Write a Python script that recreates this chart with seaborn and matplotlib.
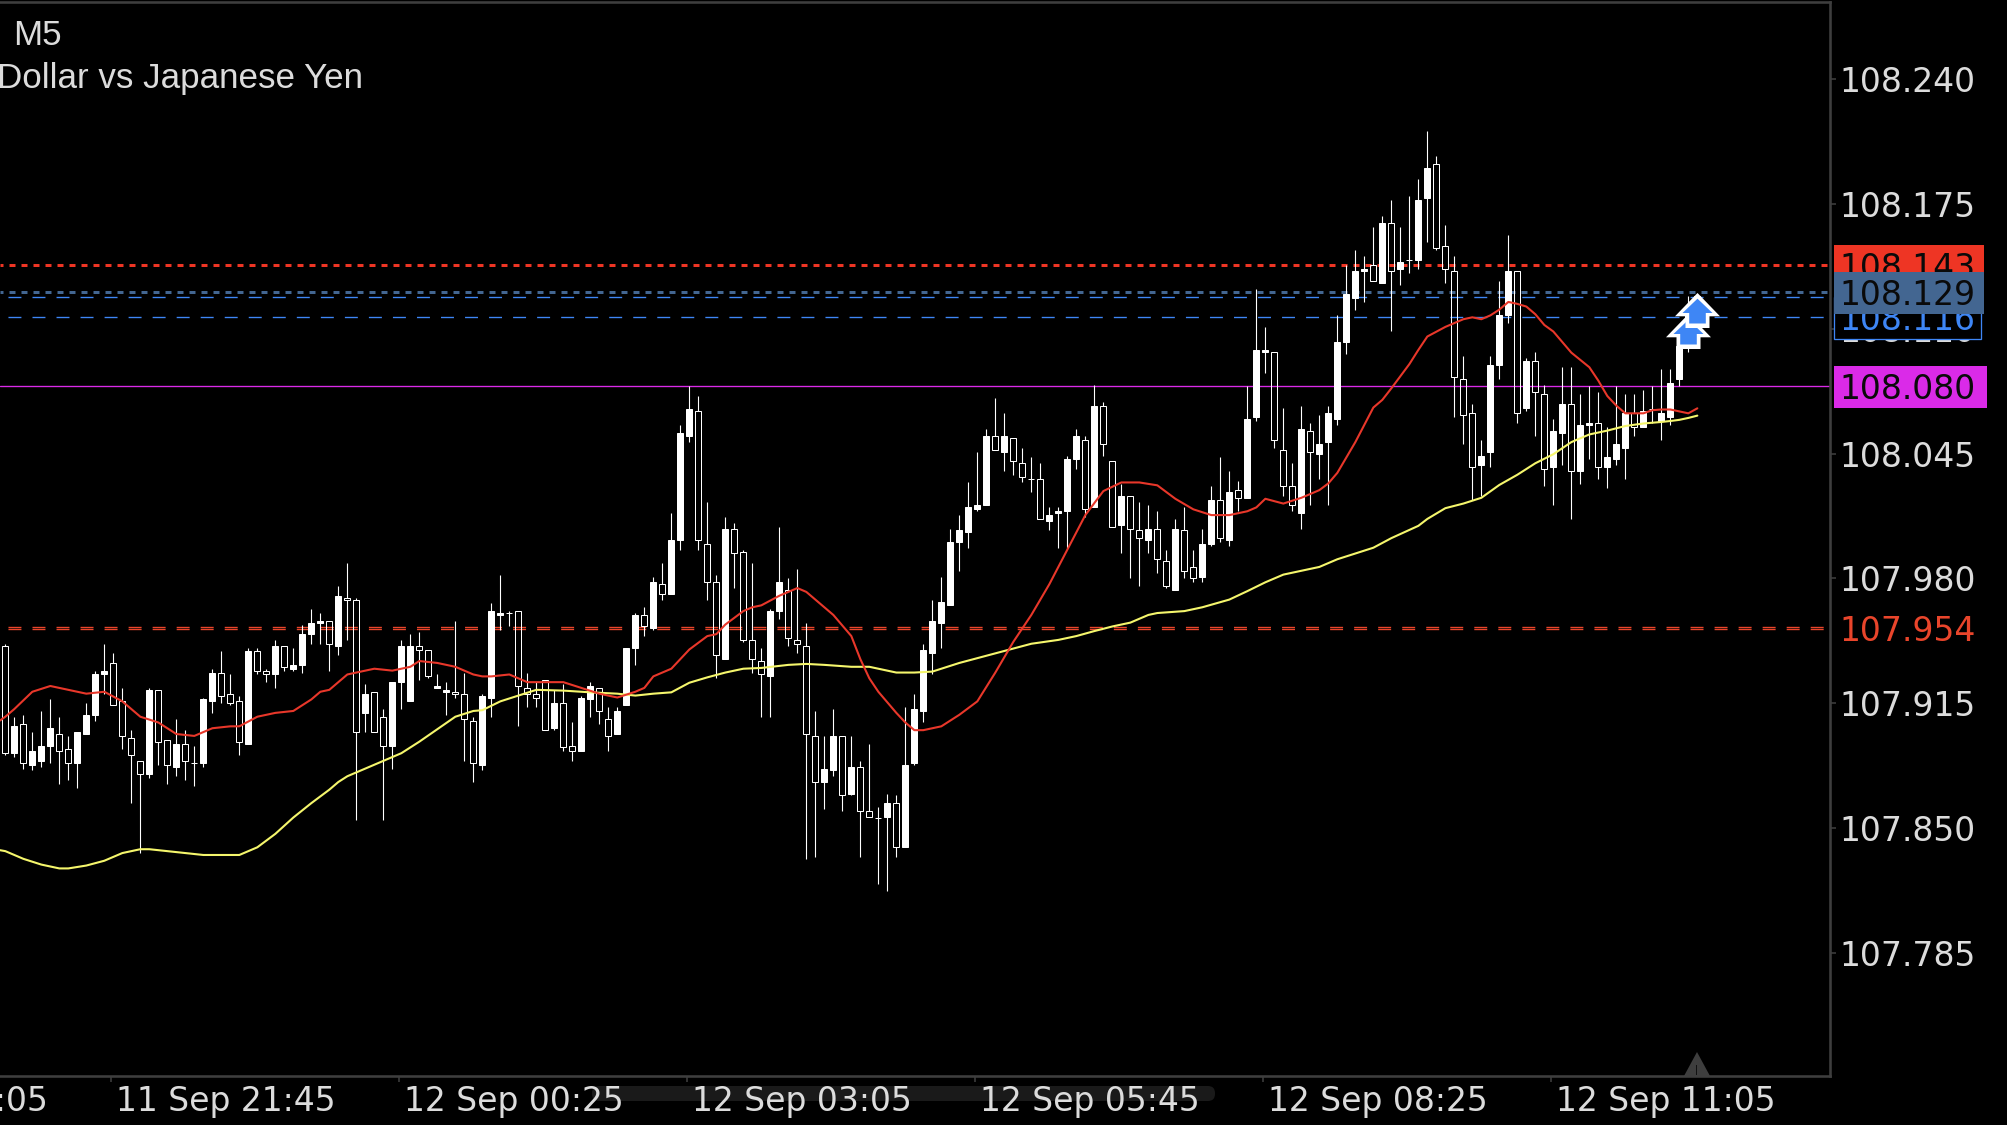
import matplotlib
matplotlib.use("Agg")
import matplotlib.pyplot as plt
from matplotlib.patches import Rectangle, Polygon, FancyBboxPatch
import numpy as np
import seaborn as sns

W, H = 2007, 1125

sns.set_theme(style="dark", rc={"axes.facecolor": "black", "figure.facecolor": "black"})

# candles, 5 minute bars
opens = [
    107.945, 107.889, 107.904, 107.883, 107.885, 107.893, 107.899, 107.891, 107.884, 107.899,
    107.909, 107.930, 107.936, 107.916, 107.897, 107.885, 107.878, 107.922, 107.896, 107.882,
    107.894, 107.884, 107.884, 107.916, 107.931, 107.920, 107.916, 107.894, 107.942, 107.932,
    107.930, 107.945, 107.933, 107.935, 107.951, 107.957, 107.958, 107.945, 107.970, 107.969,
    107.910, 107.921, 107.908, 107.893, 107.926, 107.916, 107.945, 107.943, 107.923, 107.921,
    107.921, 107.920, 107.906, 107.883, 107.918, 107.961, 107.962, 107.963, 107.923, 107.920,
    107.927, 107.902, 107.915, 107.893, 107.890, 107.917, 107.923, 107.907, 107.899, 107.914,
    107.944, 107.961, 107.954, 107.977, 107.972, 108.000, 108.054, 108.067, 107.998, 107.978,
    107.938, 108.006, 107.994, 107.948, 107.937, 107.929, 107.963, 107.974, 107.948, 107.945,
    107.898, 107.874, 107.880, 107.898, 107.868, 107.882, 107.859, 107.855, 107.856, 107.863,
    107.840, 107.884, 107.911, 107.941, 107.957, 107.966, 107.999, 108.004, 108.016, 108.018,
    108.054, 108.046, 108.053, 108.040, 108.032, 108.032, 108.010, 108.014, 108.015, 108.042,
    108.052, 108.017, 108.070, 108.041, 108.008, 108.023, 108.005, 108.000, 108.006, 107.989,
    107.974, 108.005, 107.986, 107.981, 107.998, 108.021, 108.000, 108.026, 108.022, 108.064,
    108.098, 108.098, 108.047, 108.028, 108.014, 108.057, 108.045, 108.051, 108.063, 108.103,
    108.126, 108.140, 108.143, 108.134, 108.165, 108.141, 108.146, 108.146, 108.178, 108.196,
    108.153, 108.140, 108.084, 108.066, 108.039, 108.046, 108.091, 108.117, 108.140, 108.069,
    108.093, 108.076, 108.038, 108.056, 108.071, 108.036, 108.060, 108.061, 108.038, 108.042,
    108.048, 108.066, 108.059, 108.068, 108.062, 108.064, 108.084, 108.101, 108.122,
]
highs = [
    107.946, 107.908, 107.909, 107.900, 107.911, 107.917, 107.908, 107.898, 107.900, 107.915,
    107.932, 107.946, 107.941, 107.923, 107.901, 107.885, 107.923, 107.922, 107.896, 107.907,
    107.901, 107.893, 107.918, 107.933, 107.942, 107.930, 107.919, 107.944, 107.944, 107.933,
    107.948, 107.945, 107.944, 107.956, 107.964, 107.962, 107.958, 107.976, 107.988, 107.970,
    107.925, 107.921, 107.912, 107.926, 107.948, 107.951, 107.952, 107.943, 107.930, 107.926,
    107.958, 107.931, 107.908, 107.920, 107.967, 107.982, 107.963, 107.963, 107.931, 107.926,
    107.927, 107.922, 107.925, 107.905, 107.919, 107.926, 107.923, 107.913, 107.913, 107.944,
    107.962, 107.965, 107.981, 107.988, 108.014, 108.060, 108.080, 108.075, 108.020, 107.982,
    108.012, 108.009, 107.995, 107.988, 107.944, 107.964, 108.007, 107.980, 107.985, 107.957,
    107.911, 107.898, 107.912, 107.898, 107.898, 107.885, 107.894, 107.861, 107.868, 107.867,
    107.913, 107.920, 107.946, 107.969, 107.981, 108.006, 108.013, 108.030, 108.046, 108.058,
    108.074, 108.066, 108.053, 108.048, 108.043, 108.040, 108.017, 108.017, 108.044, 108.058,
    108.054, 108.081, 108.072, 108.041, 108.029, 108.023, 108.020, 108.018, 108.015, 107.995,
    108.011, 108.017, 107.995, 108.006, 108.028, 108.043, 108.036, 108.031, 108.080, 108.131,
    108.111, 108.098, 108.069, 108.040, 108.070, 108.061, 108.065, 108.070, 108.117, 108.143,
    108.151, 108.148, 108.163, 108.169, 108.177, 108.163, 108.179, 108.188, 108.213, 108.200,
    108.164, 108.148, 108.096, 108.071, 108.052, 108.096, 108.135, 108.159, 108.140, 108.095,
    108.098, 108.081, 108.063, 108.090, 108.090, 108.076, 108.080, 108.077, 108.059, 108.080,
    108.076, 108.076, 108.078, 108.080, 108.089, 108.089, 108.101, 108.127, 108.128,
]
lows = [
    107.888, 107.887, 107.881, 107.880, 107.882, 107.884, 107.873, 107.875, 107.871, 107.899,
    107.906, 107.920, 107.914, 107.891, 107.863, 107.837, 107.876, 107.883, 107.873, 107.877,
    107.875, 107.872, 107.882, 107.910, 107.915, 107.914, 107.888, 107.894, 107.930, 107.926,
    107.923, 107.932, 107.932, 107.931, 107.946, 107.946, 107.932, 107.940, 107.948, 107.854,
    107.900, 107.900, 107.854, 107.881, 107.912, 107.916, 107.927, 107.928, 107.923, 107.909,
    107.918, 107.885, 107.874, 107.880, 107.908, 107.953, 107.955, 107.903, 107.913, 107.913,
    107.901, 107.901, 107.890, 107.885, 107.890, 107.908, 107.904, 107.890, 107.899, 107.914,
    107.935, 107.950, 107.953, 107.969, 107.972, 107.995, 108.051, 107.995, 107.969, 107.928,
    107.938, 107.975, 107.947, 107.931, 107.908, 107.908, 107.959, 107.945, 107.941, 107.834,
    107.835, 107.860, 107.877, 107.859, 107.867, 107.835, 107.856, 107.821, 107.817, 107.835,
    107.840, 107.883, 107.905, 107.930, 107.944, 107.966, 107.984, 107.996, 108.015, 108.018,
    108.047, 108.036, 108.034, 108.030, 108.025, 108.011, 108.005, 107.996, 107.996, 108.037,
    108.012, 108.017, 108.044, 108.007, 107.993, 107.980, 107.976, 107.993, 107.983, 107.975,
    107.974, 107.980, 107.978, 107.978, 107.997, 107.999, 107.997, 108.015, 108.022, 108.062,
    108.087, 108.048, 108.023, 108.015, 108.006, 108.018, 108.032, 108.018, 108.060, 108.097,
    108.120, 108.124, 108.135, 108.134, 108.109, 108.133, 108.139, 108.141, 108.155, 108.151,
    108.134, 108.064, 108.050, 108.021, 108.023, 108.038, 108.084, 108.113, 108.061, 108.067,
    108.054, 108.028, 108.018, 108.039, 108.011, 108.029, 108.042, 108.032, 108.027, 108.039,
    108.032, 108.054, 108.059, 108.061, 108.052, 108.060, 108.080, 108.098, 108.118,
]
closes = [
    107.889, 107.903, 107.884, 107.890, 107.893, 107.902, 107.890, 107.884, 107.900, 107.909,
    107.930, 107.932, 107.914, 107.898, 107.888, 107.878, 107.922, 107.895, 107.883, 107.894,
    107.885, 107.884, 107.917, 107.931, 107.919, 107.915, 107.895, 107.942, 107.932, 107.930,
    107.945, 107.934, 107.935, 107.951, 107.957, 107.958, 107.946, 107.971, 107.969, 107.900,
    107.920, 107.900, 107.893, 107.926, 107.945, 107.945, 107.943, 107.929, 107.924, 107.922,
    107.920, 107.907, 107.884, 107.919, 107.963, 107.962, 107.962, 107.924, 107.920, 107.918,
    107.901, 107.915, 107.892, 107.890, 107.918, 107.924, 107.911, 107.898, 107.911, 107.944,
    107.961, 107.955, 107.978, 107.972, 108.000, 108.056, 108.068, 108.000, 107.978, 107.940,
    108.006, 107.993, 107.948, 107.938, 107.930, 107.963, 107.978, 107.949, 107.946, 107.899,
    107.874, 107.881, 107.898, 107.867, 107.882, 107.859, 107.856, 107.855, 107.863, 107.840,
    107.883, 107.912, 107.943, 107.958, 107.968, 107.999, 108.005, 108.017, 108.018, 108.054,
    108.047, 108.054, 108.041, 108.033, 108.032, 108.011, 108.013, 108.015, 108.042, 108.054,
    108.016, 108.070, 108.050, 108.007, 108.023, 108.006, 108.001, 108.006, 107.990, 107.976,
    108.006, 107.984, 107.980, 107.998, 108.021, 108.001, 108.025, 108.022, 108.063, 108.099,
    108.099, 108.052, 108.028, 108.018, 108.058, 108.046, 108.050, 108.066, 108.103, 108.128,
    108.140, 108.141, 108.135, 108.165, 108.140, 108.145, 108.146, 108.177, 108.194, 108.152,
    108.141, 108.085, 108.065, 108.038, 108.044, 108.091, 108.117, 108.140, 108.066, 108.093,
    108.077, 108.037, 108.057, 108.071, 108.036, 108.060, 108.061, 108.038, 108.043, 108.050,
    108.066, 108.059, 108.067, 108.068, 108.066, 108.082, 108.101, 108.122, 108.127,
]

# moving averages, read at these bar numbers
red_bars = [-0.6, 0, 1, 3, 5, 7, 9, 11, 13, 15, 17, 19, 21, 23, 25, 26, 28, 30, 32, 34, 35, 36, 38, 39, 41, 43,
            45, 46, 48, 50, 52, 53, 54, 56, 58, 60, 62, 64, 66, 68, 70, 71, 72, 74, 75, 76, 78, 79, 80,
            82, 83, 84, 86, 88, 89, 90, 92, 94, 95, 96, 97, 99, 100, 101, 102, 103, 104, 106, 108, 110,
            112, 114, 116, 118, 120, 122, 124, 126, 128, 130, 132, 134, 136, 138, 139, 140, 142, 144,
            146, 147, 148, 149, 150, 152, 153, 154, 156, 157, 158, 160, 162, 163, 164, 165, 166, 167,
            168, 169, 170, 171, 172, 174, 176, 177, 178, 179, 180, 181, 182, 183, 184, 185, 186, 187, 188]
red_ma = [107.906, 107.908, 107.912, 107.921, 107.924, 107.922, 107.920, 107.921, 107.916, 107.908, 107.905,
          107.899, 107.898, 107.902, 107.903, 107.903, 107.908, 107.910, 107.911, 107.917, 107.921,
          107.922, 107.930, 107.931, 107.933, 107.932, 107.934, 107.937, 107.936, 107.934, 107.930,
          107.929, 107.929, 107.930, 107.926, 107.926, 107.926, 107.923, 107.920, 107.918, 107.921,
          107.923, 107.929, 107.933, 107.938, 107.943, 107.950, 107.951, 107.956, 107.963, 107.965,
          107.966, 107.971, 107.975, 107.973, 107.969, 107.961, 107.950, 107.938, 107.928, 107.921,
          107.910, 107.905, 107.901, 107.901, 107.902, 107.903, 107.909, 107.916, 107.931, 107.947,
          107.961, 107.977, 107.995, 108.013, 108.0255, 108.030, 108.030, 108.0285, 108.0215, 108.016,
          108.013, 108.013, 108.015, 108.017, 108.0215, 108.019, 108.022, 108.026, 108.0295, 108.035,
          108.043, 108.051, 108.069, 108.073, 108.079, 108.0916, 108.099, 108.106, 108.111, 108.115,
          108.116, 108.115, 108.117, 108.120, 108.124, 108.123, 108.1216, 108.1176, 108.112, 108.1086,
          108.0976, 108.090, 108.083, 108.075, 108.070, 108.066, 108.066, 108.066, 108.0676, 108.068,
          108.068, 108.067, 108.066, 108.0686]

yellow_bars = [-0.6, 0, 2, 4, 6, 7, 9, 11, 13, 15, 16, 18, 20, 22, 24, 26, 28, 30, 32, 34, 36, 37, 38, 40, 42, 44,
               46, 48, 50, 52, 53, 55, 57, 59, 62, 65, 68, 70, 72, 74, 76, 78, 80, 82, 84, 87, 89, 91, 94,
               96, 99, 101, 103, 106, 110, 114, 117, 119, 121, 123, 125, 127, 128, 131, 133, 136, 138, 140,
               142, 144, 146, 148, 150, 152, 154, 157, 158, 160, 162, 164, 166, 168, 170, 172, 174, 176,
               178, 180, 182, 184, 185, 186, 187, 188]
yellow_ma = [107.8385, 107.838, 107.834, 107.831, 107.829, 107.829, 107.8305, 107.833, 107.837, 107.839, 107.839,
             107.838, 107.837, 107.836, 107.836, 107.836, 107.840, 107.847, 107.8555, 107.863, 107.870,
             107.874, 107.877, 107.881, 107.885, 107.889, 107.895, 107.9015, 107.908, 107.911, 107.9114,
             107.916, 107.919, 107.922, 107.9216, 107.9207, 107.920, 107.919, 107.920, 107.9207, 107.9257,
             107.9285, 107.931, 107.933, 107.9334, 107.935, 107.9355, 107.935, 107.934, 107.934, 107.931,
             107.931, 107.9315, 107.936, 107.941, 107.946, 107.948, 107.950, 107.9526, 107.955, 107.957,
             107.961, 107.962, 107.963, 107.965, 107.969, 107.9734, 107.978, 107.982, 107.984, 107.986,
             107.990, 107.993, 107.996, 108.001, 108.0074, 108.011, 108.0166, 108.019, 108.022, 108.0287,
             108.034, 108.040, 108.0447, 108.051, 108.055, 108.057, 108.0594, 108.0607, 108.0615, 108.062,
             108.0626, 108.0636, 108.0648]

y_ticks = [108.240, 108.175, 108.110, 108.045, 107.980, 107.915, 107.850, 107.785]
time_bars = [-20.25, 11.75, 43.75, 75.75, 107.75, 139.75, 171.75]
time_labels = ["11 Sep 19:05", "11 Sep 21:45", "12 Sep 00:25", "12 Sep 03:05",
               "12 Sep 05:45", "12 Sep 08:25", "12 Sep 11:05"]

WHITE = "#ffffff"
AXIS = "#3e3e3e"
TEXT = "#dcdcdc"
RED = "#ee3524"
ORANGE = "#e9452b"
STEEL = "#436691"
BLUE = "#3e86f5"
PURPLE = "#da2ae8"
LABEL_FONT = "DejaVu Sans"

fig = plt.figure(figsize=(W / 100, H / 100), dpi=100)
ax = fig.add_axes([0, 1 - 1076 / H, 1830 / W, 1074 / H])
ax.set_xlim(-0.592, 202.74)
ax.set_ylim(107.7209, 108.2802)
ax.set_facecolor("black")
ax.grid(False)

px = 0.72  # one pixel in points
thin = 1.35 * px

# levels
ax.axhline(108.080, color=PURPLE, lw=thin, zorder=1)
ax.axhline(108.143, color=RED, lw=3 * px, ls=(1, (2, 2)), zorder=1)
ax.axhline(108.129, color=STEEL, lw=3 * px, ls=(1, (2, 2)), zorder=1)
for level in [108.1265, 108.116]:
    ax.axhline(level, color=BLUE, lw=thin, ls=(11.9, (9.6, 8.2)), zorder=1)
for level in [107.9545, 107.9535]:
    ax.axhline(level, color=ORANGE, lw=thin, ls=(11.9, (9.6, 8.2)), zorder=1)

# candles
bars = np.arange(len(opens))
o, h, l, c = map(np.array, (opens, highs, lows, closes))
up = c >= o
top = np.maximum(o, c)
bottom = np.minimum(o, c)
ax.vlines(bars, top, h, color=WHITE, lw=px * 1.1, zorder=2)
ax.vlines(bars, l, bottom, color=WHITE, lw=px * 1.1, zorder=2)
ax.bar(bars[up], (top - bottom)[up], bottom=bottom[up], width=6 / 9, color=WHITE,
       edgecolor=WHITE, linewidth=px, zorder=2)
ax.bar(bars[~up], (top - bottom)[~up], bottom=bottom[~up], width=6 / 9, facecolor="none",
       edgecolor=WHITE, linewidth=px, zorder=2)

# moving averages
sns.lineplot(x=yellow_bars, y=yellow_ma, color="#f5f66c", lw=1.5, ax=ax, zorder=3, estimator=None, sort=False)
sns.lineplot(x=red_bars, y=red_ma, color="#e8372a", lw=1.5, ax=ax, zorder=3, estimator=None, sort=False)

# signal arrows over the last two bars
outer = [(0, 17.5), (22.5, -5.8), (12, -5.8), (12, -17.5), (-12, -17.5), (-12, -5.8), (-22.5, -5.8)]
inner = [(0, 11.8), (15, -2.5), (8.3, -2.5), (8.3, -13), (-8.3, -13), (-8.3, -2.5), (-15, -2.5)]
for bar, price, z in [(187, 108.1089, 4), (188, 108.1198, 5)]:
    ax.plot([bar], [price], marker=outer, ms=45 * px, color=WHITE, mew=0, zorder=z, ls="none")
    ax.plot([bar], [price], marker=inner, ms=30 * px, color=BLUE, mew=0, zorder=z, ls="none")

# frame
for side in ["top", "right", "bottom"]:
    ax.spines[side].set_color(AXIS)
    ax.spines[side].set_linewidth(2.6 * px)
ax.spines["left"].set_visible(False)

ax.set_xticks([b for b in time_bars if b >= 0])
ax.set_xticklabels([])
ax.set_yticks(y_ticks)
ax.set_yticklabels([])
ax.yaxis.tick_right()
ax.tick_params(axis="both", length=6 * px, width=1.6 * px, color=AXIS, bottom=True, right=True, left=False)
ax.set_xlabel("")
ax.set_ylabel("")


def add_box(x0, y0, x1, y1, face, edge="none", z=6):
    fig.add_artist(Rectangle((x0 / W, 1 - y1 / H), (x1 - x0) / W, (y1 - y0) / H, transform=fig.transFigure,
                             facecolor=face, edgecolor=edge, linewidth=px * 1.3, zorder=z))


def add_price(price, color, z=7):
    y = ax.transData.transform((0, price))[1] / H
    fig.text(1839 / W, y, f"{price:.3f}", color=color, fontsize=23.8, family=LABEL_FONT,
             va="center_baseline", ha="left", zorder=z)


# bar behind the bottom labels
fig.add_artist(FancyBboxPatch((592, H - 1101), 623, 15, boxstyle="round,pad=0,rounding_size=7",
                              transform=None, facecolor="#1a1a1a", edgecolor="none", zorder=1))

# price scale
for tick in y_ticks:
    add_price(tick, TEXT, z=2)
add_price(107.954, ORANGE)

add_box(1834, 245, 1984, 287, RED, z=3)
add_price(108.143, "#0a0a0a", z=4)
add_box(1834, 297, 1981, 338.5, "black", edge=BLUE, z=5)
add_price(108.116, BLUE, z=6)
add_box(1834, 272, 1984, 313.5, STEEL, z=7)
add_price(108.129, "#0a0a0a", z=8)
add_box(1834, 366, 1987, 408, PURPLE, z=7)
add_price(108.080, "#0a0a0a", z=8)

# time scale
for bar, label in zip(time_bars, time_labels):
    x = ax.transData.transform((bar, 0))[0] / W
    fig.text(x + 5 / W, 1 - 1111.5 / H, label, color=TEXT, fontsize=23.8, family=LABEL_FONT,
             va="baseline", ha="left", zorder=3)

# chart title, its start runs off the left edge
fig.text(13 / W, 1 - 45 / H, "M5", color=TEXT, fontsize=25.2, family="Liberation Sans", va="baseline", ha="left")
fig.text(363 / W, 1 - 88 / H, "Dollar vs Japanese Yen", color=TEXT, fontsize=25.2, family="Liberation Sans",
         va="baseline", ha="right")

# marker on the time axis for the current bar
fig.add_artist(Polygon([(1684 / W, 1 - 1076 / H), (1697 / W, 1 - 1052 / H), (1710 / W, 1 - 1076 / H)],
                       transform=fig.transFigure, facecolor=AXIS, edgecolor="none", zorder=3))
fig.add_artist(Rectangle((1695.5 / W, 1 - 1075 / H), 1 / W, 10 / H, transform=fig.transFigure,
                         facecolor="#111111", edgecolor="none", zorder=4))

fig.savefig("out.png", dpi=100, facecolor="black")
